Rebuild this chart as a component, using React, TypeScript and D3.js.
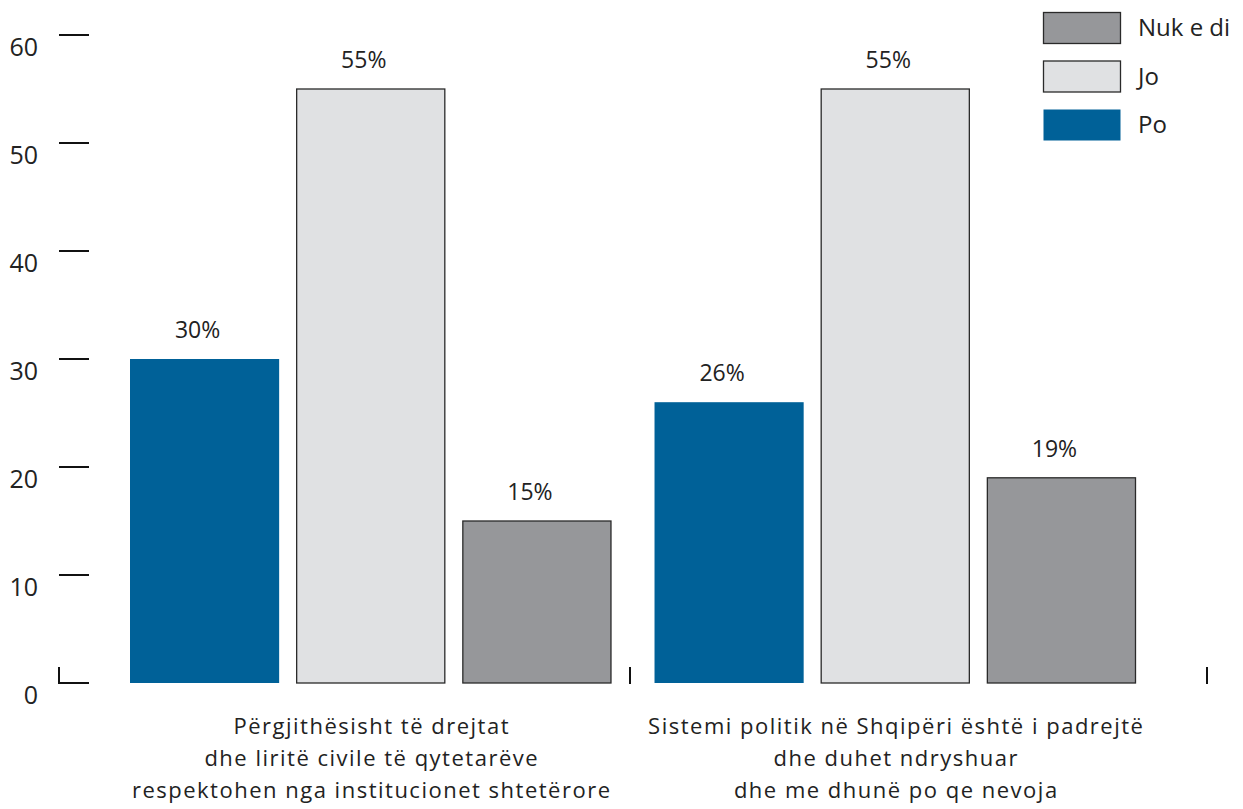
import React from "react";
import * as d3 from "d3";

const categories = [
  ["Përgjithësisht të drejtat", "dhe liritë civile të qytetarëve", "respektohen nga institucionet shtetërore"],
  ["Sistemi politik në Shqipëri është i padrejtë", "dhe duhet ndryshuar", "dhe me dhunë po qe nevoja"],
];
const seriesNames = ["Po", "Jo", "Nuk e di"];
const poValues = [30, 26];
const joValues = [55, 55];
const nukValues = [15, 19];
const yTicks = [0, 10, 20, 30, 40, 50, 60];
const colors: Record<string, string> = { Po: "#006198", Jo: "#E0E1E3", "Nuk e di": "#96979A" };
const legendOrder = ["Nuk e di", "Jo", "Po"];

const FONT = "'Open Sans', sans-serif";

export default function App() {
  const W = 1243, H = 809;
  const y = d3.scaleLinear().domain([0, 60]).range([683, 35]);
  const catKeys = categories.map((_, i) => String(i));
  const x0 = d3.scaleBand().domain(catKeys).range([130, 1136]).paddingInner(43 / 524);
  const x1 = d3.scaleBand().domain(seriesNames).range([0, x0.bandwidth()]).paddingInner(17 / 166);
  const axisBand = d3.scaleBand().domain(catKeys).range([59, 1207]);
  const vals: Record<string, number[]> = { Po: poValues, Jo: joValues, "Nuk e di": nukValues };

  return (
    <svg width={W} height={H} style={{ position: "absolute", left: 0, top: 0 }} fontFamily={FONT}>
      {yTicks.map((t) => (
        <g key={t}>
          <line x1={59} x2={89} y1={y(t)} y2={y(t)} stroke="#111" strokeWidth={2} />
          <text x={38} y={y(t) + 21} textAnchor="end" fontSize={25} fill="#222">{t}</text>
        </g>
      ))}
      <line x1={59} x2={59} y1={667} y2={684} stroke="#111" strokeWidth={2} />
      {catKeys.map((c) => {
        const sx = (axisBand(c) as number) + axisBand.bandwidth() - (c === "0" ? 3 : 0);
        return <line key={"s" + c} x1={sx} x2={sx} y1={667} y2={684} stroke="#111" strokeWidth={2} />;
      })}
      {catKeys.map((c, ci) => (
        <g key={c} transform={`translate(${x0(c)},0)`}>
          {seriesNames.map((s) => {
            const v = vals[s][ci];
            const bx = x1(s) as number;
            const outlined = s !== "Po";
            return (
              <g key={s}>
                <rect
                  x={bx + (outlined ? 0.5 : 0)}
                  y={y(v)}
                  width={x1.bandwidth() - (outlined ? 1 : 0)}
                  height={y(0) - y(v)}
                  fill={colors[s]}
                  stroke={outlined ? "#2a2a2a" : "none"}
                  strokeWidth={1.3}
                />
                <text x={bx + x1.bandwidth() / 2 - 7} y={y(v) - 21} textAnchor="middle" fontSize={23} fill="#222">
                  {v}%
                </text>
              </g>
            );
          })}
          {categories[ci].map((line, li) => (
            <text key={li} x={x0.bandwidth() / 2 + 1} y={734 + li * 32} textAnchor="middle" fontSize={22} letterSpacing={1.5} fill="#222">
              {line}
            </text>
          ))}
        </g>
      ))}
      {legendOrder.map((s, i) => (
        <g key={s} transform={`translate(1043,${12 + i * 48.5})`}>
          <rect x={0.5} y={0.5} width={77} height={31} fill={colors[s]} stroke={s === "Po" ? "none" : "#2a2a2a"} strokeWidth={1.3} />
          <text x={95} y={24} fontSize={24} fill="#222">{s}</text>
        </g>
      ))}
    </svg>
  );
}
